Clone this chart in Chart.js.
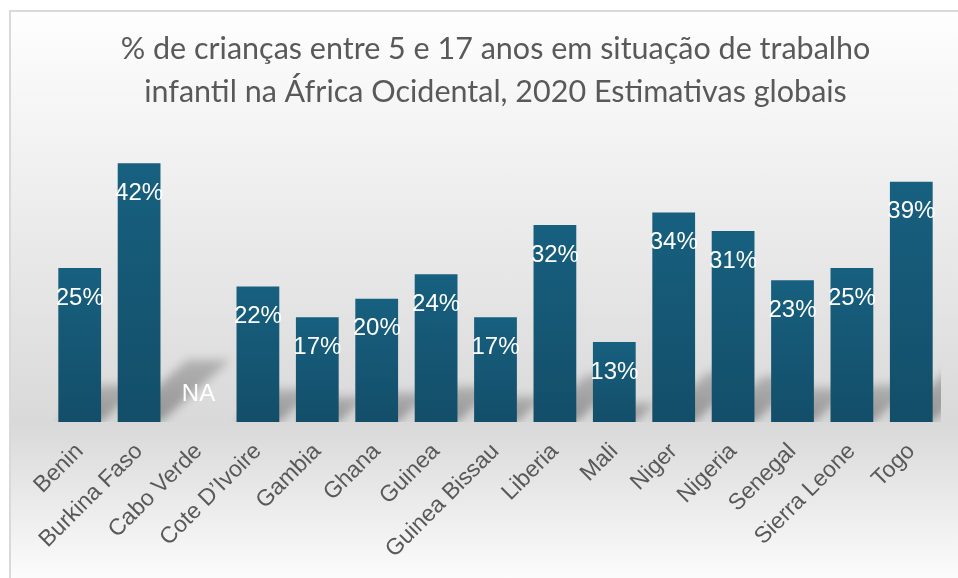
<!DOCTYPE html>
<html>
<head>
<meta charset="utf-8">
<script src="https://cdn.jsdelivr.net/npm/chart.js@4/dist/chart.umd.min.js"></script>
<style>
  html, body { margin: 0; padding: 0; width: 958px; height: 578px; overflow: hidden; background: #fff; }
  #frame {
    position: absolute; left: 9px; top: 10px; width: 960px; height: 580px;
    border-top: 2px solid #d9d9d9; border-left: 2px solid #d9d9d9;
    background: linear-gradient(to bottom, #fefefe 0px, #d9d9d9 412px, #fcfcfc 568px);
  }
  #chart { position: absolute; left: 0; top: 0; }
</style>
</head>
<body>
<div id="frame"></div>
<canvas id="chart" width="958" height="578"></canvas>
<script>
// Child labour share, West Africa, 2020 global estimates
const countries = ['Benin', 'Burkina Faso', 'Cabo Verde', 'Cote D\u2019Ivoire', 'Gambia', 'Ghana', 'Guinea',
  'Guinea Bissau', 'Liberia', 'Mali', 'Niger', 'Nigeria', 'Senegal', 'Sierra Leone', 'Togo'];
const shares = [25, 42, null, 22, 17, 20, 24, 17, 32, 13, 34, 31, 23, 25, 39];
const titleLines = ['% de crian\u00e7as entre 5 e 17 anos em situa\u00e7\u00e3o de trabalho',
  'infantil na \u00c1frica Ocidental, 2020 Estimativas globais'];

// Floor shadow behind each bar, skewed up to the right
const barShadows = {
  id: 'barShadows',
  beforeDatasetsDraw(chart) {
    const { ctx, chartArea } = chart;
    const meta = chart.getDatasetMeta(0);
    ctx.save();
    ctx.beginPath();
    ctx.rect(chartArea.left, chartArea.top, chartArea.right - chartArea.left, chartArea.bottom - chartArea.top);
    ctx.clip();
    ctx.filter = 'blur(5px)';
    meta.data.forEach((bar, i) => {
      if (shares[i] == null) return;
      const half = bar.width / 2;
      const h = bar.base - bar.y;
      const dx = h * 0.27, dy = h * 0.24;
      const g = ctx.createLinearGradient(0, bar.base, 0, bar.base - dy);
      g.addColorStop(0, 'rgba(0,0,0,0.32)');
      g.addColorStop(1, 'rgba(0,0,0,0.2)');
      ctx.fillStyle = g;
      ctx.beginPath();
      ctx.moveTo(bar.x - half, bar.base);
      ctx.lineTo(bar.x + half, bar.base);
      ctx.lineTo(bar.x + half + dx, bar.base - dy);
      ctx.lineTo(bar.x - half + dx, bar.base - dy);
      ctx.closePath();
      ctx.fill();
    });
    ctx.restore();
  }
};

// Value labels inside the bars, "NA" where there is no data
const valueLabels = {
  id: 'valueLabels',
  afterDatasetsDraw(chart) {
    const { ctx } = chart;
    const meta = chart.getDatasetMeta(0);
    ctx.save();
    ctx.fillStyle = '#ffffff';
    ctx.font = '24px "Liberation Sans", Arial, sans-serif';
    ctx.textAlign = 'center';
    ctx.textBaseline = 'middle';
    meta.data.forEach((bar, i) => {
      if (shares[i] == null) {
        ctx.fillText('NA', bar.x, bar.base - 28);
      } else {
        ctx.fillText(shares[i] + '%', bar.x, bar.y + 30);
      }
    });
    ctx.restore();
  }
};

function barFill(context) {
  const chart = context.chart;
  const y = chart.scales && chart.scales.y;
  const v = shares[context.dataIndex];
  if (!y || v == null || !chart.chartArea) return '#155a78';
  const top = y.getPixelForValue(v), bottom = y.getPixelForValue(0);
  const g = chart.ctx.createLinearGradient(0, top, 0, bottom);
  g.addColorStop(0, '#17607f');
  g.addColorStop(1, '#134e69');
  return g;
}

new Chart(document.getElementById('chart'), {
  type: 'bar',
  data: {
    labels: countries,
    datasets: [{
      data: shares,
      backgroundColor: barFill,
      borderWidth: 0,
      barPercentage: 0.72,
      categoryPercentage: 1,
    }],
  },
  options: {
    responsive: false,
    animation: false,
    layout: { padding: { top: 28, left: 50, right: 17, bottom: 0 } },
    plugins: {
      legend: { display: false },
      tooltip: { enabled: false },
      title: {
        display: true,
        text: titleLines,
        color: '#595959',
        font: { family: 'Lato', size: 30.5, weight: 'normal', lineHeight: 43 / 30.5 },
        padding: { top: 0, bottom: 0 },
      },
    },
    scales: {
      x: {
        grid: { display: false, drawTicks: false },
        border: { display: false },
        ticks: {
          autoSkip: false,
          maxRotation: 45,
          minRotation: 45,
          padding: 16,
          color: '#595959',
          font: { family: '"Liberation Sans", Arial, sans-serif', size: 23 },
        },
        afterFit(scale) {
          scale.height = 156;
          scale.paddingLeft = 0;
          scale.paddingRight = 0;
        },
      },
      y: {
        display: false,
        min: 0,
        max: 50,
      },
    },
  },
  plugins: [barShadows, valueLabels],
});
</script>
</body>
</html>
